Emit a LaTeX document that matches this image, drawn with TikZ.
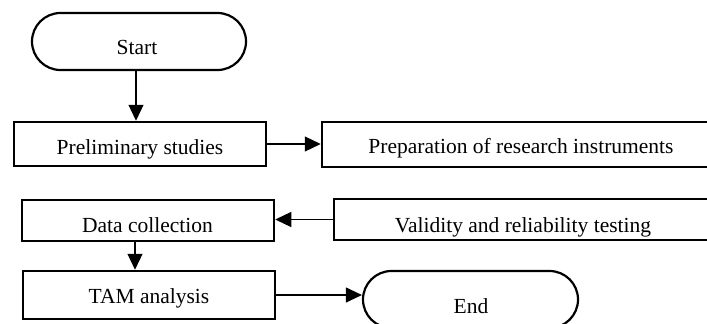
\documentclass[tikz,border=0pt]{standalone}
\usepackage{fontspec}
\setmainfont{Liberation Serif}
\usetikzlibrary{arrows.meta,shapes.misc}
\begin{document}
\begin{tikzpicture}[x=1pt,y=-1pt,
  box/.style={draw,line width=2.5pt,rectangle,inner sep=0pt},
  term/.style={draw,line width=2.2pt,rounded rectangle,inner sep=0pt},
  txt/.style={anchor=base,inner sep=0pt,font=\fontsize{21.5}{24}\selectfont},
  arr/.style={line width=1.2pt,-{Triangle[length=16pt,width=15pt]}}]
\useasboundingbox (0,0) rectangle (707,324);
% shapes
\node[term,minimum width=214pt,minimum height=57pt] (start) at (139,41.5) {};
\node[box,minimum width=252pt,minimum height=44pt] (pre) at (140,144) {};
\node[box,minimum width=398pt,minimum height=45pt] (prep) at (521,144.5) {};
\node[box,minimum width=252pt,minimum height=41pt] (data) at (148,220.5) {};
\node[box,minimum width=380pt,minimum height=41pt] (val) at (524,219.5) {};
\node[box,minimum width=252pt,minimum height=48pt] (tam) at (149,295) {};
\node[term,minimum width=215pt,minimum height=57pt] (end) at (470.5,299.5) {};
% texts
\node[txt] (tstart) at (137,54) {Start};
\node[txt] (tpre) at (140,154) {Preliminary studies};
\node[txt] (tprep) at (521,153) {Preparation of research instruments};
\node[txt] (tdata) at (147.5,232) {Data collection};
\node[txt] (tval) at (523,232) {Validity and reliability testing};
\node[txt] (ttam) at (149,303) {TAM analysis};
\node[txt] (tend) at (471,313) {End};
% connectors
\draw[arr] ([xshift=-3pt]start.south) -- ([xshift=-3pt]start.south |- pre.north);
\draw[arr] (pre.east) -- (pre.east -| prep.west);
\draw[arr] (val.west) -- (val.west -| data.east);
\draw[arr] ([xshift=-13pt]data.south) -- ([xshift=-13pt]data.south |- tam.north);
\draw[arr] (tam.east) -- (tam.east -| end.west);
\end{tikzpicture}
\end{document}
